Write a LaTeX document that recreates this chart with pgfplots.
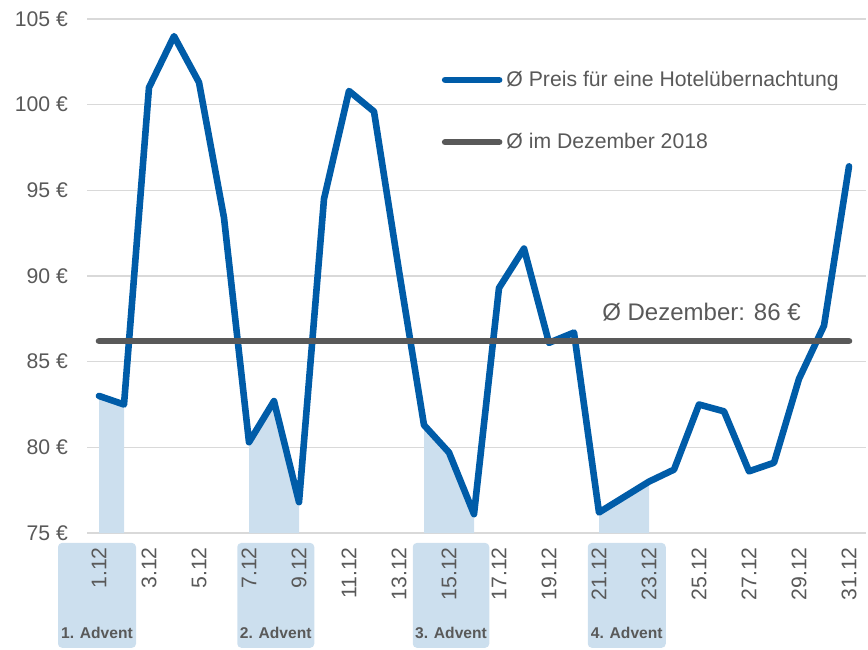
\documentclass[border=0pt]{standalone}
\usepackage{fontspec}
\setmainfont{Liberation Sans}
\usepackage{pgfplots}
\pgfplotsset{compat=1.18}
\definecolor{pblue}{HTML}{005CA8}
\definecolor{parea}{HTML}{CCDFEE}
\definecolor{pgray}{HTML}{595959}
\definecolor{pgrid}{HTML}{D9D9D9}

\begin{document}
\begin{tikzpicture}
\begin{axis}[
    set layers,
    at={(43.5pt,58pt)}, anchor=south west,
    scale only axis,
    width=389.5pt, height=257pt,
    xmin=0.52, xmax=31.68,
    ymin=75, ymax=105,
    clip=false,
    axis line style={draw=none},
    major tick length=0pt,
    ymajorgrids,
    grid style={pgrid,line width=0.75pt},
    ytick={75,80,...,105},
    yticklabels={75 €,80 €,85 €,90 €,95 €,100 €,105 €},
    xtick={1,3,...,31},
    xticklabels={1.12,3.12,5.12,7.12,9.12,11.12,13.12,15.12,17.12,19.12,
                 21.12,23.12,25.12,27.12,29.12,31.12},
    tick label style={font=\fontsize{10.6}{12}\selectfont,text=pgray},
    yticklabel style={xshift=-6pt},
    xticklabel style={rotate=90,anchor=east,inner sep=0pt},
    xticklabel shift=7pt,
    legend style={at={(0.455,0.821)},anchor=west,
        draw=none,fill=none,inner sep=0pt,row sep=18pt,
        font=\fontsize{10.6}{12}\selectfont,text=pgray,
        cells={anchor=west}},
    legend image code/.code={\draw[#1,line cap=round] (0pt,0pt) -- (27pt,0pt);},
]

% --- advent boxes below the date labels ----------------------------
\pgfplotsset{advbox/.style={fill=parea,draw=none,forget plot,
    rounded corners=2pt,on layer=axis background}}
\addplot[advbox] coordinates {(-0.64,74.42)(2.48,74.42)(2.48,68.3)(-0.64,68.3)} -- cycle;
\addplot[advbox] coordinates {(6.53,74.42)(9.61,74.42)(9.61,68.3)(6.53,68.3)} -- cycle;
\addplot[advbox] coordinates {(13.55,74.42)(16.61,74.42)(16.61,68.3)(13.55,68.3)} -- cycle;
\addplot[advbox] coordinates {(20.55,74.42)(23.67,74.42)(23.67,68.3)(20.55,68.3)} -- cycle;

% --- advent weekends: area under the curve -------------------------
\addplot[fill=parea,draw=none,forget plot] coordinates
  {(1,75)(1,83.0)(2,82.5)(2,75)} -- cycle;
\addplot[fill=parea,draw=none,forget plot] coordinates
  {(7,75)(7,80.3)(8,82.7)(9,76.8)(9,75)} -- cycle;
\addplot[fill=parea,draw=none,forget plot] coordinates
  {(14,75)(14,81.3)(15,79.7)(16,76.1)(16,75)} -- cycle;
\addplot[fill=parea,draw=none,forget plot] coordinates
  {(21,75)(21,76.2)(22,77.1)(23,78.0)(23,75)} -- cycle;

% --- daily average price -------------------------------------------
\addplot[pblue,line width=3.3pt,line join=round,line cap=round,mark=none]
  coordinates {
  (1,83.0) (2,82.5) (3,101.0) (4,104.0) (5,101.3) (6,93.4) (7,80.3)
  (8,82.7) (9,76.8) (10,94.5) (11,100.8) (12,99.6) (13,90.3) (14,81.3)
  (15,79.7) (16,76.1) (17,89.3) (18,91.6) (19,86.1) (20,86.7) (21,76.2)
  (22,77.1) (23,78.0) (24,78.7) (25,82.5) (26,82.1) (27,78.6) (28,79.1)
  (29,84.0) (30,87.1) (31,96.4)
};
\addlegendentry{Ø Preis für eine Hotelübernachtung}

% --- monthly average -----------------------------------------------
\addplot[pgray,line width=3.3pt,line cap=round,mark=none]
  coordinates {(1,86.2) (31,86.2)};
\addlegendentry{Ø im Dezember 2018}

\node[font=\fontsize{12}{14}\selectfont,text=pgray] at (axis cs:25.1,87.9)
  {Ø Dezember: 86 €};

\begin{scope}[every node/.style={font=\bfseries\fontsize{7.8}{9}\selectfont,text=pgray}]
  \node at (axis cs:0.92,69.16) {1. Advent};
  \node at (axis cs:8.07,69.16) {2. Advent};
  \node at (axis cs:15.08,69.16) {3. Advent};
  \node at (axis cs:22.11,69.16) {4. Advent};
\end{scope}

\end{axis}
\path (0,0) rectangle (434pt,324.5pt);
\end{tikzpicture}
\end{document}
